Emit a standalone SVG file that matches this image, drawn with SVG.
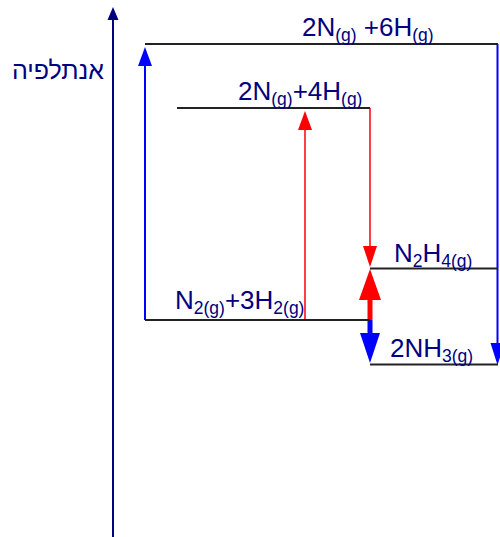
<svg xmlns="http://www.w3.org/2000/svg" width="500" height="537" viewBox="0 0 500 537">
<style>
.lvl{stroke:#222;stroke-width:2;fill:none}
.ax{stroke:#000080;stroke-width:2;fill:none}
.bl{stroke:#0000ff;stroke-width:2;fill:none}
.rd{stroke:#ff0000;stroke-width:1.5;fill:none}
.t{font-family:"Liberation Sans",Arial,sans-serif;font-size:26px;fill:#000080}
.s{font-size:17.5px}
.heb{font-family:"Liberation Sans","DejaVu Sans",sans-serif;font-size:25px;fill:#000080}
</style>
<rect width="500" height="537" fill="#fff"/>
<g id="axis">
<line class="ax" x1="113" y1="537" x2="113" y2="18"/>
<polygon points="113,7 107.5,20 118.5,20" fill="#000080"/>
<text class="heb" x="12" y="79">אנתלפיה</text>
</g>
<g id="connectors">
<line class="bl" x1="145" y1="320" x2="145" y2="64"/>
<polygon points="145,47 138,66 152,66" fill="#0000ff"/>
<line class="bl" x1="497.5" y1="44" x2="497.5" y2="345"/>
<polygon points="497.5,365 490.5,343 504.5,343" fill="#0000ff"/>
<line class="rd" x1="370" y1="108" x2="370" y2="248"/>
<polygon points="370,267 363,246 377,246" fill="#ff0000"/>
<line class="rd" x1="305" y1="320" x2="305" y2="128"/>
<polygon points="305,111 298,130 312,130" fill="#ff0000"/>
<line x1="370" y1="320" x2="370" y2="298" stroke="#ff0000" stroke-width="5"/>
<polygon points="370,269 359,300 381,300" fill="#ff0000"/>
<line x1="370" y1="320" x2="370" y2="335" stroke="#0000ff" stroke-width="5"/>
<polygon points="370,363 360,333 380,333" fill="#0000ff"/>
</g>
<g id="atoms">
<line class="lvl" x1="145" y1="44" x2="498" y2="44"/>
<text class="t" x="302" y="36">2N<tspan class="s" dy="5">(g)</tspan><tspan dy="-5"> +6H</tspan><tspan class="s" dy="5">(g)</tspan></text>
</g>
<g id="radicals">
<line class="lvl" x1="177" y1="108" x2="370" y2="108"/>
<text class="t" x="238" y="100">2N<tspan class="s" dy="5">(g)</tspan><tspan dy="-5">+4H</tspan><tspan class="s" dy="5">(g)</tspan></text>
</g>
<g id="reactants">
<line class="lvl" x1="145" y1="320" x2="370" y2="320"/>
<text class="t" x="175" y="309">N<tspan class="s" dy="5">2(g)</tspan><tspan dy="-5">+3H</tspan><tspan class="s" dy="5">2(g)</tspan></text>
</g>
<g id="hydrazine">
<line class="lvl" x1="370" y1="268.5" x2="498" y2="268.5"/>
<text class="t" x="394" y="262">N<tspan class="s" dy="5">2</tspan><tspan dy="-5">H</tspan><tspan class="s" dy="5">4(g)</tspan></text>
</g>
<g id="ammonia">
<line class="lvl" x1="370" y1="364.5" x2="498" y2="364.5"/>
<text class="t" x="390" y="357">2NH<tspan class="s" dy="5">3(g)</tspan></text>
</g>
</svg>
